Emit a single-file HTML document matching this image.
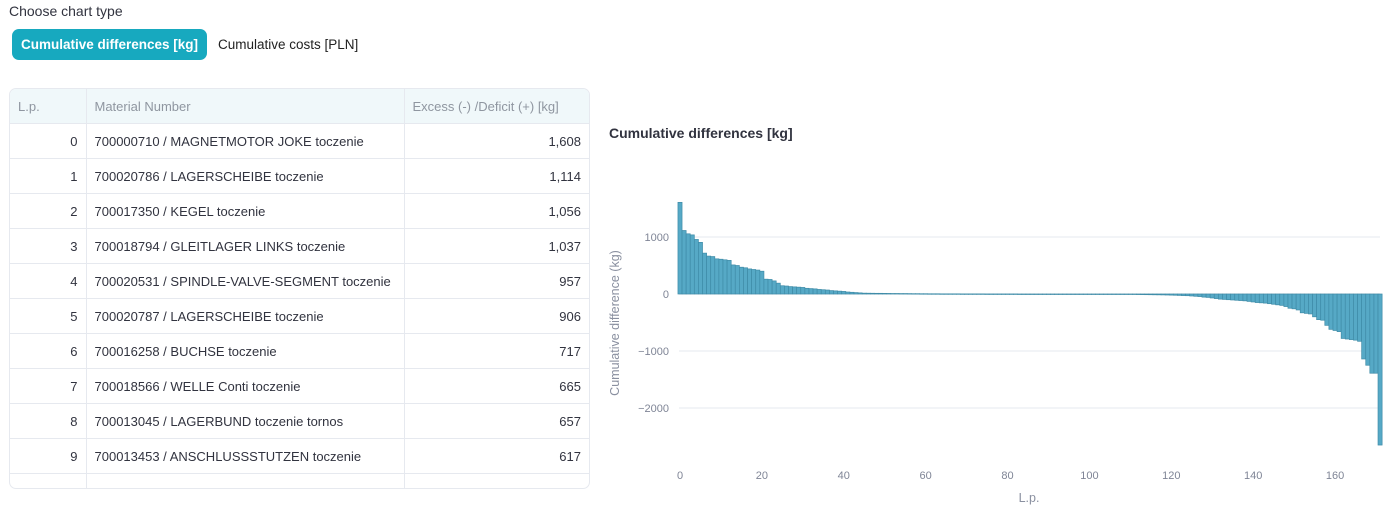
<!DOCTYPE html>
<html><head><meta charset="utf-8"><style>
body{margin:0;width:1399px;height:515px;background:#fff;font-family:"Liberation Sans",sans-serif;position:relative;overflow:hidden}
.abs{position:absolute}
table{border-collapse:collapse;font-size:13px;color:#31333f}
td{height:34px;border-bottom:1px solid #e6e9ef;border-right:1px solid #e6e9ef;padding:0 8px;white-space:nowrap}
</style></head><body>
<div class="abs" style="left:9px;top:3px;font-size:14px;color:#31333f">Choose chart type</div>
<div class="abs" style="left:12px;top:29px;width:195px;height:31px;background:#17a9bf;border-radius:7px;color:#fff;font-weight:bold;font-size:13.5px;line-height:31px;text-align:center">Cumulative differences [kg]</div>
<div class="abs" style="left:218px;top:29px;height:31px;color:#222;font-size:13.5px;line-height:31px">Cumulative costs [PLN]</div>
<div class="abs" style="left:9px;top:88px;width:579px;height:399px;border:1px solid #e6e9ef;border-radius:7px;overflow:hidden">
<table style="width:579px;table-layout:fixed">
<colgroup><col style="width:76px"><col style="width:318px"><col style="width:185px"></colgroup>
<tr style="background:#f0f8fa;color:#8f96a0"><td>L.p.</td><td>Material Number</td><td style="border-right:none">Excess (-) /Deficit (+) [kg]</td></tr>
<tr><td style="text-align:right">0</td><td>700000710 / MAGNETMOTOR JOKE toczenie</td><td style="text-align:right;border-right:none">1,608</td></tr>
<tr><td style="text-align:right">1</td><td>700020786 / LAGERSCHEIBE toczenie</td><td style="text-align:right;border-right:none">1,114</td></tr>
<tr><td style="text-align:right">2</td><td>700017350 / KEGEL toczenie</td><td style="text-align:right;border-right:none">1,056</td></tr>
<tr><td style="text-align:right">3</td><td>700018794 / GLEITLAGER LINKS toczenie</td><td style="text-align:right;border-right:none">1,037</td></tr>
<tr><td style="text-align:right">4</td><td>700020531 / SPINDLE-VALVE-SEGMENT toczenie</td><td style="text-align:right;border-right:none">957</td></tr>
<tr><td style="text-align:right">5</td><td>700020787 / LAGERSCHEIBE toczenie</td><td style="text-align:right;border-right:none">906</td></tr>
<tr><td style="text-align:right">6</td><td>700016258 / BUCHSE toczenie</td><td style="text-align:right;border-right:none">717</td></tr>
<tr><td style="text-align:right">7</td><td>700018566 / WELLE Conti toczenie</td><td style="text-align:right;border-right:none">665</td></tr>
<tr><td style="text-align:right">8</td><td>700013045 / LAGERBUND toczenie tornos</td><td style="text-align:right;border-right:none">657</td></tr>
<tr><td style="text-align:right">9</td><td>700013453 / ANSCHLUSSSTUTZEN toczenie</td><td style="text-align:right;border-right:none">617</td></tr>
<tr><td></td><td></td><td style="border-right:none"></td></tr>
</table></div>
<svg id="chart" class="abs" style="left:0;top:0" width="1399" height="515">
<text x="609" y="138" font-size="14" font-weight="bold" fill="#31333f">Cumulative differences [kg]</text>
<text transform="translate(619,323) rotate(-90)" text-anchor="middle" font-size="12.5" fill="#8a90a0">Cumulative difference (kg)</text>
<text x="1029" y="502" text-anchor="middle" font-size="12.5" fill="#8a90a0">L.p.</text>
<g id="grid"></g><g id="bars"></g><g id="ticks"></g>
</svg>
<script>
const values=[1608,1114,1056,1037,957,906,717,665,657,617,
610,600,590,510,500,470,460,440,430,420,400,260,255,230,190,145,140,130,125,120,115,100,95,90,80,75,70,60,55,50,45,35,30,25,20,
15,14,13,12,12,11,10,9,9,8,8,7,6,6,5,5,
4,4,4,3,3,3,3,3,2,2,2,2,2,2,1,1,1,1,1,1,1,1,0,0,0,0,0,0,0,0,0,0,-1,-1,-1,-1,-1,-1,-2,-2,
-3,-3,-4,-4,-5,-5,-6,-7,-8,-8,-9,-10,-11,-12,-13,-14,-15,-16,-18,-20,-22,
-25,-28,-30,-35,-40,-45,
-55,-60,-70,-80,-90,-95,-100,-105,
-110,-115,-120,-130,-140,-150,-155,-160,-170,-180,
-190,-200,-220,-250,-260,
-280,-330,-340,-350,-400,
-450,-460,-550,-620,-640,
-660,-780,-790,-800,-810,-830,
-1140,-1250,-1390,-1390,-2650];
const yTicks=[1000,0,-1000,-2000];
const xTicks=[0,20,40,60,80,100,120,140,160];
const NS="http://www.w3.org/2000/svg";
const xs=v=>680+4.094*v, ys=v=>294-v*0.057;
const grid=document.getElementById('grid'),bars=document.getElementById('bars'),ticks=document.getElementById('ticks');
function mk(tag,at,p){const e=document.createElementNS(NS,tag);for(const k in at)e.setAttribute(k,at[k]);p.appendChild(e);return e;}
yTicks.forEach(t=>{
 const l=mk('line',{x1:679,x2:1380,y1:ys(t),y2:ys(t),stroke:t===0?'#cfd3da':'#e6e9ef','stroke-width':1},grid);
 
 
 const tx=mk('text',{x:669,y:ys(t)+4,'text-anchor':'end','font-size':11,fill:'#7f8596'},ticks);
 tx.textContent=t<0?'\u2212'+(-t):String(t);
 
 
});
values.forEach((v,i)=>{
 const y0=ys(0),y1=ys(v);
 const r=mk('rect',{x:xs(i)-2.05,y:Math.min(y0,y1),width:4.094,height:Math.max(Math.abs(y1-y0),0.5),fill:'#56a9c6',stroke:'#3f8ca8','stroke-width':0.7},bars);
 
 
});
xTicks.forEach(t=>{
 const tx=mk('text',{x:xs(t),y:479,'text-anchor':'middle','font-size':11,fill:'#7f8596'},ticks);
 tx.textContent=String(t);
 
 
});
</script>
</body></html>
